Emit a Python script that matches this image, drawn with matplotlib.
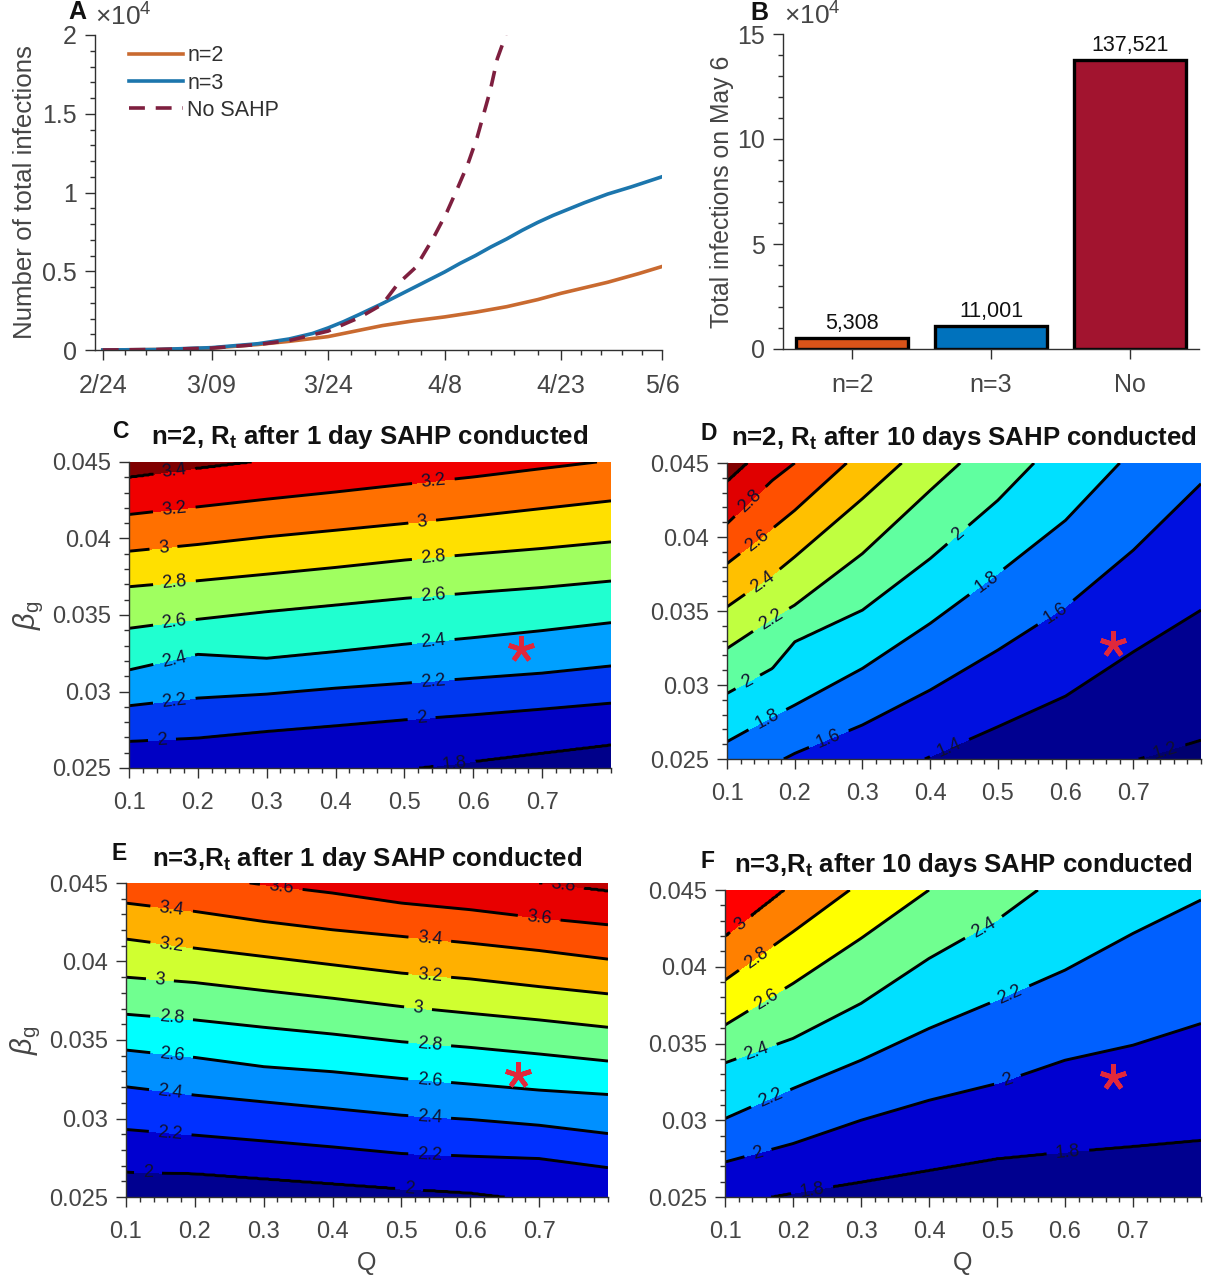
import numpy as np
import matplotlib
matplotlib.use("Agg")
import matplotlib.pyplot as plt
from matplotlib.ticker import MultipleLocator

plt.rcParams["font.family"] = ["Liberation Sans", "DejaVu Sans"]
plt.rcParams["mathtext.fontset"] = "custom"
plt.rcParams["mathtext.rm"] = "Liberation Sans"
plt.rcParams["mathtext.it"] = "Liberation Sans:italic"
plt.rcParams["mathtext.bf"] = "Liberation Sans:bold"

W, H = 1210, 1280
GREY = "#454545"

# panel A, days since 2/24, total infections in units of 10^4
date_ticks = [0, 14, 29, 44, 59, 72]
date_labels = ["2/24", "3/09", "3/24", "4/8", "4/23", "5/6"]
days_n2 = [0, 7, 14, 20, 24, 29, 33, 36, 40, 44, 48, 52, 56, 59, 62, 65, 69, 72]
vals_n2 = [0, 0.003, 0.012, 0.035, 0.055, 0.085, 0.125, 0.155, 0.185, 0.21, 0.24, 0.275,
           0.32, 0.36, 0.395, 0.43, 0.485, 0.53]
days_n3 = [0, 7, 14, 20, 24, 27, 29, 31, 33, 36, 38, 40, 42, 44, 46, 48, 50, 52, 54, 56,
           58, 60, 62, 65, 68, 72]
vals_n3 = [0, 0.003, 0.015, 0.04, 0.07, 0.105, 0.14, 0.18, 0.225, 0.295, 0.345, 0.395,
           0.445, 0.495, 0.55, 0.6, 0.655, 0.705, 0.76, 0.81, 0.855, 0.895, 0.935, 0.99,
           1.035, 1.10]
days_no = [0, 7, 14, 20, 24, 29, 33, 36, 38, 40.3, 42.6, 44.3, 45.7, 47, 48.2, 49.9, 50.8, 51.9]
vals_no = [0, 0.003, 0.012, 0.035, 0.06, 0.12, 0.205, 0.29, 0.42, 0.525, 0.715, 0.875,
           1.03, 1.18, 1.35, 1.65, 1.85, 2.0]

# panel B
bar_names = ["n=2", "n=3", "No"]
bar_totals = [5308, 11001, 137521]
bar_colors = ["#d95319", "#0072bd", "#a2142f"]

# contour panels: beta_g where each level crosses the Q columns
# (values outside 0.025-0.045 are where a line would go beyond the frame)
q_cols = [0.1, 0.2, 0.3, 0.4, 0.5, 0.6, 0.7, 0.8]
q_cols_d = [0.1, 0.167, 0.2, 0.3, 0.4, 0.5, 0.6, 0.7, 0.8]

levels_c = [1.8, 2.0, 2.2, 2.4, 2.6, 2.8, 3.0, 3.2, 3.4]
cross_c = [
    [.0227, .02326, .0238, .02435, .02489, .02543, .02598, .02652],
    [.02674, .02696, .02739, .02776, .02815, .02848, .02885, .02924],
    [.02907, .02957, .02983, .03022, .03054, .03087, .0312, .03167],
    [.03141, .03243, .03217, .03261, .03309, .03352, .03398, .0345],
    [.03413, .03472, .03522, .03565, .03609, .03646, .0368, .03722],
    [.03685, .03724, .03767, .03811, .03859, .03898, .03935, .03978],
    [.03917, .03961, .04011, .04054, .04098, .04146, .04196, .04246],
    [.04157, .04207, .04257, .04304, .04354, .04402, .04457, .04511],
    [.04398, .04457, .04511, .0457, .0463, .0469, .0475, .0481],
]
colors_c = ["#00008a", "#0000c4", "#0038f0", "#00a0ff", "#20ffd0", "#a0ff60",
            "#ffe000", "#ff7000", "#f00000", "#800000"]
labels_c = [(.166, .0442), (.166, .0418), (.542, .04374), (.15, .0394), (.526, .041),
            (.166, .0371), (.542, .0387), (.166, .0345), (.542, .0362), (.166, .032),
            (.542, .0332), (.166, .0293), (.542, .0306), (.148, .0268), (.525, .0282),
            (.573, .0252)]

levels_d = [1.2, 1.4, 1.6, 1.8, 2.0, 2.2, 2.4, 2.6, 2.8, 3.0]
cross_d = [
    [.01548, .0165, .01706, .01863, .0202, .02178, .02336, .02489, .02628],
    [.0193, .02066, .02133, .02313, .02516, .02718, .02925, .03224, .03506],
    [.02313, .0246, .02538, .0273, .02966, .03236, .03528, .03911, .0436],
    [.02617, .02786, .02864, .03112, .03416, .03753, .04113, .04597, .0508],
    [.02943, .03112, .03292, .03506, .03854, .04248, .0472, .0519, .056],
    [.03247, .03449, .0354, .03888, .04315, .04732, .052, .056, .06],
    [.03528, .03742, .03866, .04259, .04675, .0508, .055, .059, .063],
    [.0382, .04057, .0418, .04597, .0495, .0535, .0575, .0615, .0655],
    [.0409, .04383, .045, .049, .053, .057, .061, .065, .069],
    [.04372, .04653, .04792, .0519, .056, .06, .064, .068, .072],
]
colors_d = ["#000070", "#000090", "#0010e0", "#0070ff", "#00e0ff", "#60ffa0",
            "#c0ff40", "#ffc000", "#ff5000", "#e00000", "#800000"]
labels_d = [(.137, .04226), (.146, .03967), (.154, .03686), (.167, .03427), (.132, .0301),
            (.444, .04), (.16, .02763), (.485, .03686), (.25, .0264), (.583, .03506),
            (.429, .0257), (.747, .0255)]

levels_e = [2.0, 2.2, 2.4, 2.6, 2.8, 3.0, 3.2, 3.4, 3.6, 3.8]
cross_e = [
    [.0266, .02649, .02617, .02585, .02553, .02526, .02474, .02436],
    [.0293, .02894, .02857, .02819, .02777, .0276, .02745, .02687],
    [.03202, .03149, .03106, .03064, .03021, .02994, .02957, .02904],
    [.03436, .03389, .0333, .03298, .03255, .03219, .03181, .03153],
    [.03664, .03628, .03581, .03538, .03489, .03453, .03411, .03366],
    [.039, .03866, .03815, .03766, .03713, .0367, .03628, .03581],
    [.04143, .04085, .04032, .03979, .03926, .03889, .0384, .03794],
    [.04372, .04319, .04255, .04202, .0416, .04117, .0407, .04015],
    [.04596, .04543, .04489, .04436, .04372, .0433, .04277, .04234],
    [.04883, .04819, .04755, .04692, .04628, .04564, .045, .04447],
]
colors_e = ["#000090", "#0000d0", "#0030ff", "#0090ff", "#00ffff", "#70ff90",
            "#d0ff30", "#ffb000", "#ff5000", "#e80000", "#c00000"]
labels_e = [(.325, .0446), (.735, .04474), (.70, .04277), (.166, .04326), (.541, .04134),
            (.166, .04096), (.541, .03904), (.149, .03868), (.524, .03696), (.166, .03628),
            (.541, .03468), (.166, .03394), (.541, .0324), (.164, .03155), (.541, .0301),
            (.164, .02898), (.541, .02766), (.132, .02638), (.511, .02547)]

levels_f = [1.8, 2.0, 2.2, 2.4, 2.6, 2.8, 3.0]
cross_f = [
    [.02446, .02526, .02598, .02674, .0275, .02793, .0283, .0287],
    [.02728, .02848, .03, .0313, .03239, .03391, .03489, .0363],
    [.03011, .03207, .03391, .03598, .03783, .03978, .04217, .04435],
    [.03374, .03533, .03761, .04054, .04304, .0463, .0498, .0535],
    [.0362, .03891, .04185, .045, .04848, .052, .056, .06],
    [.03913, .04228, .04554, .0489, .0525, .056, .0595, .063],
    [.04196, .04543, .0489, .0525, .056, .0595, .063, .0665],
]
colors_f = ["#00008f", "#0000d0", "#0060ff", "#00e0ff", "#70ff90", "#ffff00",
            "#ff8000", "#ff0000"]
labels_f = [(.125, .0426), (.15, .04033), (.163, .03772), (.147, .03439), (.482, .04243),
            (.168, .03135), (.519, .03815), (.149, .02778), (.516, .03257), (.228, .02548),
            (.605, .02778)]

star_q, star_beta = 0.67, 0.0328
beta_ticks = [0.025, 0.03, 0.035, 0.04, 0.045]
beta_labels = ["0.025", "0.03", "0.035", "0.04", "0.045"]
q_ticks = [0.1, 0.2, 0.3, 0.4, 0.5, 0.6, 0.7]


def add_axes(fig, left, top, right, bottom):
    return fig.add_axes([left / W, 1 - bottom / H, (right - left) / W, (bottom - top) / H])


def style_axes(ax, size):
    ax.spines["top"].set_visible(False)
    ax.spines["right"].set_visible(False)
    for side in ["left", "bottom"]:
        ax.spines[side].set_color("#303030")
        ax.spines[side].set_linewidth(1.0)
    ax.tick_params(which="major", direction="out", length=7, width=1, color="#303030",
                   labelcolor=GREY, labelsize=size, pad=6)
    ax.tick_params(which="minor", direction="out", length=3.5, width=1, color="#303030")
    ax.tick_params(axis="x", which="major", pad=10)


def fig_text(fig, x, y, s, **kw):
    fig.text(x / W, 1 - y / H, s, ha=kw.pop("ha", "center"), va=kw.pop("va", "center"), **kw)


def build_grid(q, levels, cross):
    # surface on a fine grid: lines run straight between the Q columns
    q_grid = np.linspace(0.1, 0.8, 351)
    beta_grid = np.linspace(0.025, 0.045, 401)
    lines = np.array([np.interp(q_grid, q, row) for row in cross])
    z = np.zeros((len(beta_grid), len(q_grid)))
    for j in range(len(q_grid)):
        b = np.r_[0.0, lines[:, j], 0.2]
        v = np.r_[levels[0] - 0.2, levels, levels[-1] + 0.2]
        z[:, j] = np.interp(beta_grid, b, v)
    return q_grid, beta_grid, z


def draw_contour(fig, box, q, levels, cross, colors, label_pos, with_ylabel, with_xlabel):
    ax = add_axes(fig, *box)
    q_grid, beta_grid, z = build_grid(q, levels, cross)
    bounds = [levels[0] - 0.3] + list(levels) + [levels[-1] + 0.3]
    ax.contourf(q_grid, beta_grid, z, levels=bounds, colors=colors, antialiased=False)
    lines = ax.contour(q_grid, beta_grid, z, levels=levels, colors="black", linewidths=2.1)
    texts = ax.clabel(lines, fmt="%g", manual=label_pos, inline=True, fontsize=13, inline_spacing=9)
    for t in texts:
        t.set_color("#101030")
    ax.plot([star_q], [star_beta], marker=(5, 2, 0), ms=19, mew=3.4, color="#e0283c", ls="none")
    ax.set_xlim(0.1, 0.8)
    ax.set_ylim(0.025, 0.045)
    style_axes(ax, 17)
    ax.set_xticks(q_ticks)
    ax.set_xticklabels(["%g" % v for v in q_ticks])
    ax.set_yticks(beta_ticks)
    ax.set_yticklabels(beta_labels)
    ax.xaxis.set_minor_locator(MultipleLocator(0.02))
    ax.yaxis.set_minor_locator(MultipleLocator(0.001))
    if with_ylabel:
        ax.set_ylabel(r"$\beta_{\mathrm{g}}$", fontsize=21, color=GREY, labelpad=4)
    if with_xlabel:
        ax.set_xlabel("Q", fontsize=18, color=GREY, labelpad=6)
    return ax


fig = plt.figure(figsize=(W / 100, H / 100), dpi=100)

# A
ax = add_axes(fig, 95, 35, 662, 350)
ax.plot(days_n2, vals_n2, color="#c96a30", lw=2.6, label="n=2")
ax.plot(days_n3, vals_n3, color="#1c76ad", lw=2.6, label="n=3")
ax.plot(days_no, vals_no, color="#7e1f3f", lw=2.6, ls=(0, (4.4, 3.0)), label="No SAHP")
ax.set_xlim(-1, 72)
ax.set_ylim(0, 2)
style_axes(ax, 18)
ax.set_xticks(date_ticks)
ax.set_xticklabels(date_labels)
minor = []
for a, b in zip(date_ticks[:-1], date_ticks[1:]):
    minor.extend(np.linspace(a, b, 6)[1:-1])
ax.set_xticks(minor, minor=True)
ax.set_yticks([0, 0.5, 1, 1.5, 2])
ax.set_yticklabels(["0", "0.5", "1", "1.5", "2"])
ax.yaxis.set_minor_locator(MultipleLocator(0.1))
ax.set_ylabel("Number of total infections", fontsize=18.6, color=GREY, labelpad=4)
ax.legend(loc="upper left", bbox_to_anchor=(0.06, 0.968), frameon=False, fontsize=15.5,
          handlelength=2.5, handletextpad=0.2, labelspacing=0.3, borderpad=0, borderaxespad=0,
          labelcolor="#303030")

# B
ax = add_axes(fig, 783, 34, 1199, 349)
positions = [1, 2, 3]
ax.bar(positions, [v / 1e4 for v in bar_totals], width=0.81, color=bar_colors,
       edgecolor="black", linewidth=2.4)
for p, v in zip(positions, bar_totals):
    ax.text(p, v / 1e4 + 0.2, format(v, ","), ha="center", va="bottom", fontsize=15.5, color="#111111")
ax.set_xlim(0.5, 3.5)
ax.set_ylim(0, 15)
style_axes(ax, 18)
ax.set_xticks(positions)
ax.set_xticklabels(bar_names)
ax.set_yticks([0, 5, 10, 15])
ax.yaxis.set_minor_locator(MultipleLocator(1))
ax.set_ylabel("Total infections on May 6", fontsize=17.8, color=GREY, labelpad=2)

# C-F
draw_contour(fig, (129, 462, 611, 768), q_cols, levels_c, cross_c, colors_c, labels_c, True, False)
draw_contour(fig, (727, 463, 1201, 759), q_cols_d, levels_d, cross_d, colors_d, labels_d, False, False)
draw_contour(fig, (126, 883, 608, 1197), q_cols, levels_e, cross_e, colors_e, labels_e, True, True)
draw_contour(fig, (725, 890, 1201, 1197), q_cols, levels_f, cross_f, colors_f, labels_f, False, True)

title_kw = dict(fontsize=18.5, fontweight="bold", color="#111111")
fig_text(fig, 370, 437, r"n=2, R$_{\mathbf{t}}$ after 1 day SAHP conducted", **title_kw)
fig_text(fig, 964, 438, r"n=2, R$_{\mathbf{t}}$ after 10 days SAHP conducted", **title_kw)
fig_text(fig, 367, 859, r"n=3,R$_{\mathbf{t}}$ after 1 day SAHP conducted", **title_kw)
fig_text(fig, 963, 865, r"n=3,R$_{\mathbf{t}}$ after 10 days SAHP conducted", **title_kw)

for x, y, s, size in [(77, 12, "A", 18), (759, 13, "B", 18), (120, 432, "C", 16.5),
                      (709, 433, "D", 16.5), (119, 853, "E", 16.5), (707, 862, "F", 16.5)]:
    fig_text(fig, x, y, s, fontsize=size, fontweight="bold", color="#111111")

fig_text(fig, 123, 17, r"$\times10^{4}$", fontsize=19, color=GREY)
fig_text(fig, 812, 16, r"$\times10^{4}$", fontsize=19, color=GREY)

fig.savefig("out.png", dpi=100)
